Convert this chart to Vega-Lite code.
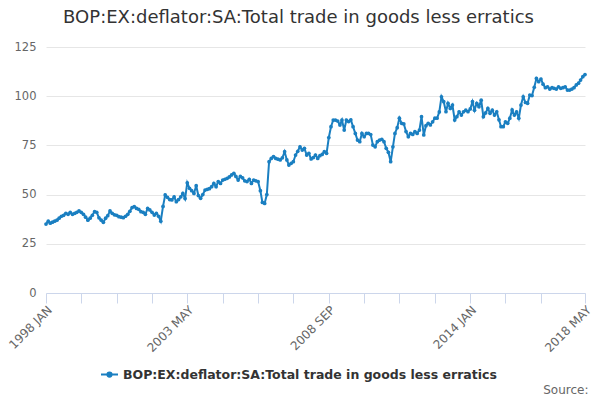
{
  "$schema": "https://vega.github.io/schema/vega-lite/v6.json",
  "width": 539,
  "height": 246,
  "autosize": {"type": "none"},
  "padding": {"left": 46, "top": 47, "right": 15, "bottom": 107},
  "config": {"view": {"stroke": null}, "font": "DejaVu Sans"},
  "title": {
    "text": "BOP:EX:deflator:SA:Total trade in goods less erratics",
    "font": "DejaVu Sans",
    "fontSize": 18,
    "fontWeight": "normal",
    "color": "#333333",
    "anchor": "middle",
    "dx": -17,
    "offset": 14
  },
  "data": {"values": [
    {"d":"1998-01-01","v":35},{"d":"1998-02-01","v":36.5},{"d":"1998-03-01","v":35.5},{"d":"1998-04-01","v":36},{"d":"1998-05-01","v":36.5},{"d":"1998-06-01","v":37},{"d":"1998-07-01","v":38},{"d":"1998-08-01","v":39},{"d":"1998-09-01","v":39.5},{"d":"1998-10-01","v":40.5},{"d":"1998-11-01","v":40},{"d":"1998-12-01","v":41},
    {"d":"1999-01-01","v":40},{"d":"1999-02-01","v":40.5},{"d":"1999-03-01","v":41},{"d":"1999-04-01","v":41.7},{"d":"1999-05-01","v":41},{"d":"1999-06-01","v":40},{"d":"1999-07-01","v":38.5},{"d":"1999-08-01","v":37},{"d":"1999-09-01","v":38},{"d":"1999-10-01","v":39.5},{"d":"1999-11-01","v":41.3},{"d":"1999-12-01","v":41},
    {"d":"2000-01-01","v":38.2},{"d":"2000-02-01","v":37},{"d":"2000-03-01","v":35.9},{"d":"2000-04-01","v":38},{"d":"2000-05-01","v":39.3},{"d":"2000-06-01","v":41.7},{"d":"2000-07-01","v":40.5},{"d":"2000-08-01","v":39.7},{"d":"2000-09-01","v":39.5},{"d":"2000-10-01","v":38.8},{"d":"2000-11-01","v":38.5},{"d":"2000-12-01","v":38.3},
    {"d":"2001-01-01","v":39},{"d":"2001-02-01","v":40},{"d":"2001-03-01","v":41.5},{"d":"2001-04-01","v":43.4},{"d":"2001-05-01","v":43.9},{"d":"2001-06-01","v":43},{"d":"2001-07-01","v":42.5},{"d":"2001-08-01","v":41.3},{"d":"2001-09-01","v":41},{"d":"2001-10-01","v":40},{"d":"2001-11-01","v":43},{"d":"2001-12-01","v":42.2},
    {"d":"2002-01-01","v":41},{"d":"2002-02-01","v":39.6},{"d":"2002-03-01","v":40.5},{"d":"2002-04-01","v":39},{"d":"2002-05-01","v":36.5},{"d":"2002-06-01","v":44},{"d":"2002-07-01","v":49.8},{"d":"2002-08-01","v":48.6},{"d":"2002-09-01","v":47.5},{"d":"2002-10-01","v":47.3},{"d":"2002-11-01","v":48.9},{"d":"2002-12-01","v":46.4},
    {"d":"2003-01-01","v":47.5},{"d":"2003-02-01","v":48.9},{"d":"2003-03-01","v":50.6},{"d":"2003-04-01","v":48},{"d":"2003-05-01","v":56},{"d":"2003-06-01","v":53.2},{"d":"2003-07-01","v":52},{"d":"2003-08-01","v":50.6},{"d":"2003-09-01","v":54.5},{"d":"2003-10-01","v":49.5},{"d":"2003-11-01","v":48.1},{"d":"2003-12-01","v":50},
    {"d":"2004-01-01","v":52.3},{"d":"2004-02-01","v":52.7},{"d":"2004-03-01","v":53},{"d":"2004-04-01","v":54},{"d":"2004-05-01","v":55.7},{"d":"2004-06-01","v":54},{"d":"2004-07-01","v":56.6},{"d":"2004-08-01","v":55.7},{"d":"2004-09-01","v":57.4},{"d":"2004-10-01","v":57.8},{"d":"2004-11-01","v":58.3},{"d":"2004-12-01","v":59},
    {"d":"2005-01-01","v":60},{"d":"2005-02-01","v":60.8},{"d":"2005-03-01","v":59.2},{"d":"2005-04-01","v":57.4},{"d":"2005-05-01","v":59.2},{"d":"2005-06-01","v":58.5},{"d":"2005-07-01","v":57},{"d":"2005-08-01","v":56.6},{"d":"2005-09-01","v":57.8},{"d":"2005-10-01","v":55.7},{"d":"2005-11-01","v":57.4},{"d":"2005-12-01","v":57},
    {"d":"2006-01-01","v":56.6},{"d":"2006-02-01","v":52},{"d":"2006-03-01","v":46},{"d":"2006-04-01","v":45.5},{"d":"2006-05-01","v":50},{"d":"2006-06-01","v":66.7},{"d":"2006-07-01","v":68.4},{"d":"2006-08-01","v":69.3},{"d":"2006-09-01","v":68.4},{"d":"2006-10-01","v":68},{"d":"2006-11-01","v":67.6},{"d":"2006-12-01","v":68.7},
    {"d":"2007-01-01","v":71.8},{"d":"2007-02-01","v":67.6},{"d":"2007-03-01","v":65},{"d":"2007-04-01","v":65.9},{"d":"2007-05-01","v":66.7},{"d":"2007-06-01","v":70.1},{"d":"2007-07-01","v":72},{"d":"2007-08-01","v":74.3},{"d":"2007-09-01","v":72.6},{"d":"2007-10-01","v":73.5},{"d":"2007-11-01","v":70.1},{"d":"2007-12-01","v":71},
    {"d":"2008-01-01","v":68.1},{"d":"2008-02-01","v":68.8},{"d":"2008-03-01","v":70.1},{"d":"2008-04-01","v":68.4},{"d":"2008-05-01","v":69.8},{"d":"2008-06-01","v":70.4},{"d":"2008-07-01","v":71.8},{"d":"2008-08-01","v":71},{"d":"2008-09-01","v":79},{"d":"2008-10-01","v":84.5},{"d":"2008-11-01","v":87.9},{"d":"2008-12-01","v":87.9},
    {"d":"2009-01-01","v":87.4},{"d":"2009-02-01","v":85.4},{"d":"2009-03-01","v":87.9},{"d":"2009-04-01","v":82.8},{"d":"2009-05-01","v":87.9},{"d":"2009-06-01","v":87.1},{"d":"2009-07-01","v":88},{"d":"2009-08-01","v":84.5},{"d":"2009-09-01","v":81.1},{"d":"2009-10-01","v":77.7},{"d":"2009-11-01","v":76.9},{"d":"2009-12-01","v":81.1},
    {"d":"2010-01-01","v":79.4},{"d":"2010-02-01","v":81.1},{"d":"2010-03-01","v":81.1},{"d":"2010-04-01","v":80.5},{"d":"2010-05-01","v":75.2},{"d":"2010-06-01","v":74.3},{"d":"2010-07-01","v":76.9},{"d":"2010-08-01","v":77.7},{"d":"2010-09-01","v":78.1},{"d":"2010-10-01","v":76.9},{"d":"2010-11-01","v":73.5},{"d":"2010-12-01","v":71.5},
    {"d":"2011-01-01","v":66.7},{"d":"2011-02-01","v":74.3},{"d":"2011-03-01","v":81.1},{"d":"2011-04-01","v":84},{"d":"2011-05-01","v":88.8},{"d":"2011-06-01","v":86.2},{"d":"2011-07-01","v":85.9},{"d":"2011-08-01","v":82},{"d":"2011-09-01","v":79.4},{"d":"2011-10-01","v":81.1},{"d":"2011-11-01","v":80.6},{"d":"2011-12-01","v":82},
    {"d":"2012-01-01","v":81.1},{"d":"2012-02-01","v":82.8},{"d":"2012-03-01","v":89.6},{"d":"2012-04-01","v":80.3},{"d":"2012-05-01","v":85},{"d":"2012-06-01","v":86.2},{"d":"2012-07-01","v":85.4},{"d":"2012-08-01","v":87},{"d":"2012-09-01","v":88.8},{"d":"2012-10-01","v":88.8},{"d":"2012-11-01","v":92},{"d":"2012-12-01","v":99.7},
    {"d":"2013-01-01","v":97.2},{"d":"2013-02-01","v":92.1},{"d":"2013-03-01","v":96.4},{"d":"2013-04-01","v":93.8},{"d":"2013-05-01","v":95.5},{"d":"2013-06-01","v":87.9},{"d":"2013-07-01","v":89.6},{"d":"2013-08-01","v":92.1},{"d":"2013-09-01","v":90.4},{"d":"2013-10-01","v":92.1},{"d":"2013-11-01","v":92.9},{"d":"2013-12-01","v":92.1},
    {"d":"2014-01-01","v":93.5},{"d":"2014-02-01","v":97.2},{"d":"2014-03-01","v":92.9},{"d":"2014-04-01","v":96.4},{"d":"2014-05-01","v":94.7},{"d":"2014-06-01","v":98},{"d":"2014-07-01","v":89.6},{"d":"2014-08-01","v":91.5},{"d":"2014-09-01","v":93.8},{"d":"2014-10-01","v":91.3},{"d":"2014-11-01","v":92.9},{"d":"2014-12-01","v":90.4},
    {"d":"2015-01-01","v":92.1},{"d":"2015-02-01","v":88},{"d":"2015-03-01","v":84.5},{"d":"2015-04-01","v":84.5},{"d":"2015-05-01","v":87},{"d":"2015-06-01","v":86.2},{"d":"2015-07-01","v":88.8},{"d":"2015-08-01","v":93},{"d":"2015-09-01","v":90.4},{"d":"2015-10-01","v":92},{"d":"2015-11-01","v":88.8},{"d":"2015-12-01","v":95.5},
    {"d":"2016-01-01","v":99.7},{"d":"2016-02-01","v":96.8},{"d":"2016-03-01","v":96.4},{"d":"2016-04-01","v":100.6},{"d":"2016-05-01","v":100.3},{"d":"2016-06-01","v":104.5},{"d":"2016-07-01","v":109},{"d":"2016-08-01","v":107.4},{"d":"2016-09-01","v":108.7},{"d":"2016-10-01","v":106.1},{"d":"2016-11-01","v":104.3},{"d":"2016-12-01","v":104.8},
    {"d":"2017-01-01","v":103.6},{"d":"2017-02-01","v":104.3},{"d":"2017-03-01","v":104},{"d":"2017-04-01","v":103.6},{"d":"2017-05-01","v":104.8},{"d":"2017-06-01","v":104},{"d":"2017-07-01","v":104.3},{"d":"2017-08-01","v":104.8},{"d":"2017-09-01","v":103.1},{"d":"2017-10-01","v":103.1},{"d":"2017-11-01","v":103.6},{"d":"2017-12-01","v":104.3},
    {"d":"2018-01-01","v":105.7},{"d":"2018-02-01","v":106.6},{"d":"2018-03-01","v":108.2},{"d":"2018-04-01","v":109.9},{"d":"2018-05-01","v":111}
  ]},
  "mark": {"type": "line", "strokeWidth": 2, "point": {"filled": true, "size": 14}},
  "encoding": {
    "x": {
      "field": "d",
      "type": "temporal",
      "scale": {"type": "utc", "nice": false},
      "axis": {
        "values": [
          {"year": 1998, "month": 1, "date": 1, "utc": true},
          {"year": 1999, "month": 5, "date": 1, "utc": true},
          {"year": 2000, "month": 9, "date": 1, "utc": true},
          {"year": 2002, "month": 1, "date": 1, "utc": true},
          {"year": 2003, "month": 5, "date": 1, "utc": true},
          {"year": 2004, "month": 9, "date": 1, "utc": true},
          {"year": 2006, "month": 1, "date": 1, "utc": true},
          {"year": 2007, "month": 5, "date": 1, "utc": true},
          {"year": 2008, "month": 9, "date": 1, "utc": true},
          {"year": 2010, "month": 1, "date": 1, "utc": true},
          {"year": 2011, "month": 5, "date": 1, "utc": true},
          {"year": 2012, "month": 9, "date": 1, "utc": true},
          {"year": 2014, "month": 1, "date": 1, "utc": true},
          {"year": 2015, "month": 5, "date": 1, "utc": true},
          {"year": 2016, "month": 9, "date": 1, "utc": true},
          {"year": 2018, "month": 5, "date": 1, "utc": true}
        ],
        "labelExpr": "indexof(['1998 JAN','2003 MAY','2008 SEP','2014 JAN','2018 MAY'], upper(utcFormat(datum.value, '%Y %b'))) >= 0 ? upper(utcFormat(datum.value, '%Y %b')) : ''",
        "labelAngle": -45,
        "labelAlign": "right",
        "labelBaseline": "top",
        "labelFontSize": 12,
        "labelColor": "#666666",
        "labelFlush": false,
        "labelOverlap": false,
        "labelPadding": 1,
        "grid": false,
        "domainColor": "#ccd6eb",
        "tickColor": "#ccd6eb",
        "tickSize": 10,
        "title": "Source:",
        "titleAnchor": "end",
        "titleX": 542,
        "titleY": 100,
        "titleAlign": "right",
        "titleBaseline": "alphabetic",
        "titleFontSize": 12,
        "titleFontWeight": "normal",
        "titleColor": "#666666"
      }
    },
    "y": {
      "field": "v",
      "type": "quantitative",
      "scale": {"domain": [0, 125], "nice": false},
      "axis": {
        "title": null,
        "values": [0, 25, 50, 75, 100, 125],
        "domain": false,
        "ticks": false,
        "gridColor": "#e6e6e6",
        "labelColor": "#666666",
        "labelFontSize": 11.5,
        "labelPadding": 10
      }
    },
    "color": {
      "datum": "BOP:EX:deflator:SA:Total trade in goods less erratics",
      "scale": {"range": ["#1a7fc1"]},
      "legend": {
        "orient": "none",
        "legendX": 54,
        "legendY": 318,
        "title": null,
        "labelFontSize": 12.5,
        "labelFontWeight": "bold",
        "labelColor": "#333333",
        "labelLimit": 0,
        "symbolType": "M-1,0H1M-0.25,0a0.25,0.25 0 1,0 0.5,0a0.25,0.25 0 1,0 -0.5,0",
        "symbolSize": 289,
        "symbolStrokeWidth": 2,
        "symbolFillColor": "#1a7fc1"
      }
    }
  }
}
